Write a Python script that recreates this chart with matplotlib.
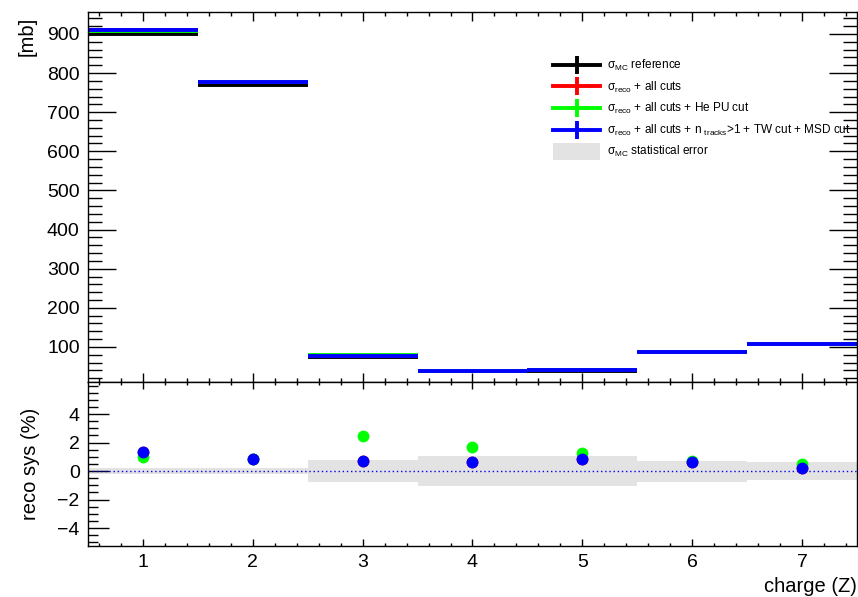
import matplotlib
matplotlib.use("Agg")
import matplotlib.pyplot as plt
import numpy as np
from matplotlib.lines import Line2D
from matplotlib.patches import Patch, Rectangle
from matplotlib.legend_handler import HandlerPatch
from matplotlib.ticker import MultipleLocator

plt.rcParams['font.family'] = ['Liberation Sans', 'DejaVu Sans']
plt.rcParams['mathtext.fontset'] = 'custom'
plt.rcParams['mathtext.rm'] = 'Liberation Sans'
plt.rcParams['mathtext.it'] = 'Liberation Sans:italic'

# ---- data ----
charge = [1, 2, 3, 4, 5, 6, 7]
xs_mc = [899, 770, 75.5, 37.5, 37.5, 87, 107.5]          # sigma_MC reference [mb]
xs_reco = [911, 776, 76, 38, 40.5, 87.5, 107.7]          # reco + all cuts
xs_reco_he = [908, 776, 79.5, 38, 40.5, 87.5, 107.7]     # reco + all cuts + He PU cut
xs_reco_tw = [911, 776, 76, 38, 40.5, 87.5, 107.7]       # reco + ntracks>1 + TW + MSD
stat_err_pct = [0.23, 0.2, 0.78, 1.07, 1.03, 0.74, 0.62] # MC stat error (%)
sys_reco = [1.32, 0.86, 0.72, 0.65, 0.86, 0.67, 0.23]
sys_reco_he = [0.97, 0.86, 2.48, 1.67, 1.27, 0.72, 0.47]
sys_reco_tw = [1.32, 0.86, 0.72, 0.65, 0.86, 0.67, 0.23]

labels = [r'σ$_{\mathrm{MC}}$ reference',
          r'σ$_{\mathrm{reco}}$ + all cuts',
          r'σ$_{\mathrm{reco}}$ + all cuts + He PU cut',
          r'σ$_{\mathrm{reco}}$ + all cuts + n $_{\mathrm{tracks}}$>1 + TW cut + MSD cut',
          r'σ$_{\mathrm{MC}}$ statistical error']
colors = ['black', '#ff0000', '#00ff00', '#0000ff']
band_color = '#e3e3e3'

W, H = 858, 597
fig = plt.figure(figsize=(W / 100, H / 100), dpi=100)
ax1 = fig.add_axes([88 / W, 1 - 382 / H, 769 / W, 370 / H])
ax2 = fig.add_axes([88 / W, 1 - 546 / H, 769 / W, 164 / H])

# ---- top panel ----
mc_abs_err = [s * v / 100 for s, v in zip(stat_err_pct, xs_mc)]
for vals, c in zip([xs_mc, xs_reco, xs_reco_he, xs_reco_tw], colors):
    ax1.errorbar(charge, vals, xerr=0.5, yerr=mc_abs_err, fmt='none',
                 ecolor=c, elinewidth=2.8, capsize=0)
ax1.set_xlim(0.5, 7.5)
ax1.set_ylim(10.5, 956)
ax1.yaxis.set_minor_locator(MultipleLocator(20))
ax1.xaxis.set_major_locator(MultipleLocator(1))
ax1.xaxis.set_minor_locator(MultipleLocator(0.2))
ax1.set_yticks([100, 200, 300, 400, 500, 600, 700, 800, 900])
ax1.tick_params(axis='both', which='both', direction='in', top=True, right=True,
                labelbottom=False, width=1, labelsize=14)
ax1.tick_params(axis='y', which='major', length=20, pad=6)
ax1.tick_params(axis='y', which='minor', length=10)
ax1.tick_params(axis='x', which='major', length=6.5)
ax1.tick_params(axis='x', which='minor', length=3.2)
ax1.set_ylabel('[mb]', fontsize=14.5)
ax1.yaxis.set_label_coords((27 - 88) / 769, (382 - 36) / 370)
ax1.yaxis.label.set_va('center')


def tall_patch(legend, orig_handle, xdescent, ydescent, width, height, fontsize):
    return Rectangle((-xdescent, -ydescent - 0.55 * height), width, 2.1 * height)


handles = [Line2D([], [], color=c, lw=2.8, marker='|', markersize=13,
                  markeredgewidth=2.8) for c in colors]
band_handle = Patch(facecolor=band_color, edgecolor='none')
handles.append(band_handle)
leg = ax1.legend(handles, labels, loc='upper left',
                 bbox_to_anchor=((553 - 88) / 769, 1 - (58 - 12) / 370),
                 frameon=False, fontsize=8.5, handlelength=4.0,
                 handletextpad=0.6, labelspacing=0.55, borderpad=0,
                 borderaxespad=0,
                 handler_map={Patch: HandlerPatch(patch_func=tall_patch)})

# ---- bottom panel ----
err_arr = np.array(stat_err_pct)
ax2.bar(charge, 2 * err_arr, bottom=-err_arr, width=1.0, color=band_color,
        edgecolor='none', zorder=1)
ax2.axhline(0, color='#0000ff', lw=1, ls=(0, (1, 2)), zorder=2)
for vals, c in zip([sys_reco, sys_reco_he, sys_reco_tw], colors[1:]):
    ax2.plot(charge, vals, 'o', color=c, markersize=7.5, zorder=3)
ax2.set_xlim(0.5, 7.5)
ax2.set_ylim(-5.26, 6.25)
ax2.set_yticks([-4, -2, 0, 2, 4])
ax2.yaxis.set_minor_locator(MultipleLocator(0.5))
ax2.xaxis.set_major_locator(MultipleLocator(1))
ax2.xaxis.set_minor_locator(MultipleLocator(0.2))
ax2.set_yticklabels(['\u22124', '\u22122', '0', '2', '4'])
ax2.tick_params(axis='both', which='both', direction='in', top=True, right=False,
                width=1, labelsize=14)
ax2.tick_params(axis='y', which='major', length=15, pad=6)
ax2.tick_params(axis='y', which='minor', length=7.5)
ax2.tick_params(axis='x', which='major', length=5, pad=6)
ax2.tick_params(axis='x', which='minor', length=2.5)
ax2.set_ylabel('reco sys (%)', fontsize=14.5)
ax2.yaxis.set_label_coords((30 - 88) / 769, (546 - 464) / 164)
ax2.yaxis.label.set_va('center')
ax2.set_xlabel('charge (Z)', fontsize=14.5)
ax2.xaxis.set_label_coords(1.0, (546 - 587) / 164)
ax2.xaxis.label.set_ha('right')
ax2.xaxis.label.set_va('center')

for ax in (ax1, ax2):
    for s in ax.spines.values():
        s.set_linewidth(1)

fig.savefig('out.png', dpi=100)
